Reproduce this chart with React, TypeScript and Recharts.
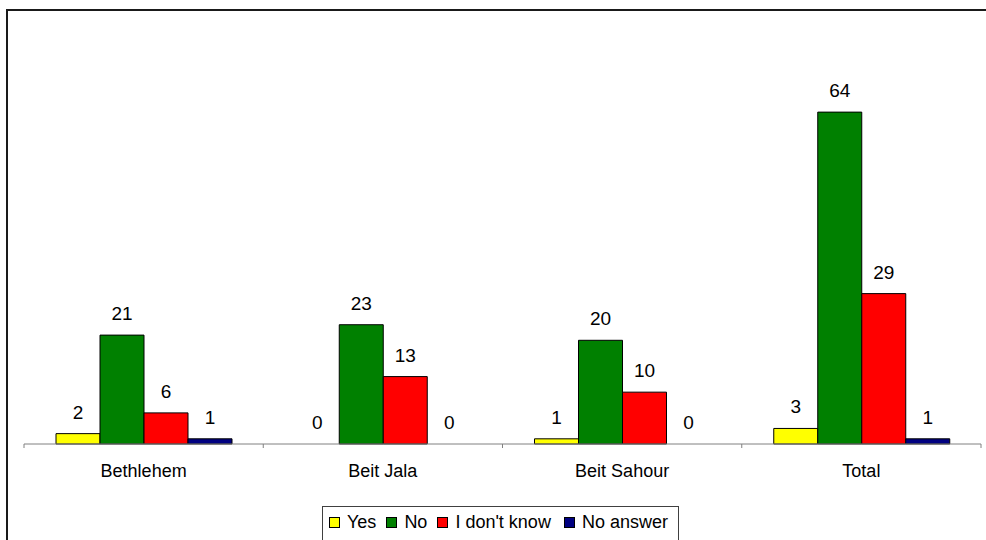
import React from "react";
import { BarChart, Bar, XAxis, YAxis, Legend, LabelList, Cell } from "recharts";

const categories = ["Bethlehem", "Beit Jala", "Beit Sahour", "Total"];
const seriesNames = ["Yes", "No", "I don't know", "No answer"];
const yesValues = [2, 0, 1, 3];
const noValues = [21, 23, 20, 64];
const dontKnowValues = [6, 13, 10, 29];
const noAnswerValues = [1, 0, 0, 1];

const data = categories.map((name, i) => ({
  name,
  yes: yesValues[i],
  no: noValues[i],
  dontKnow: dontKnowValues[i],
  noAnswer: noAnswerValues[i],
}));

const FONT = "'Liberation Sans', Arial, sans-serif";
const W = 986;
const H = 540;
const MARGIN = { top: 81, right: 5, bottom: 66, left: 24 };
const PLOT_W = W - MARGIN.left - MARGIN.right;
const BAND = PLOT_W / categories.length;

function CategoryTick(props: any) {
  const { x, y, payload, index } = props;
  const last = index === categories.length - 1;
  return (
    <g>
      <line x1={x - BAND / 2} x2={x - BAND / 2} y1={y} y2={y + 4} stroke="#808080" strokeWidth={1} />
      {last && <line x1={x + BAND / 2} x2={x + BAND / 2} y1={y} y2={y + 4} stroke="#808080" strokeWidth={1} />}
      <text x={x} y={y + 33} textAnchor="middle" fill="#000" fontSize={18} fontFamily={FONT}>
        {payload.value}
      </text>
    </g>
  );
}

function LegendBox(props: any) {
  const payload = [...(props.payload || [])].sort(
    (a: any, b: any) => seriesNames.indexOf(a.value) - seriesNames.indexOf(b.value)
  );
  return (
    <div
      style={{
        border: "1px solid #404040",
        width: 357,
        height: 40,
        boxSizing: "border-box",
        paddingLeft: 6,
        paddingTop: 4,
        fontFamily: FONT,
        fontSize: 18,
        color: "#000",
        background: "#fff",
      }}
    >
      <div style={{ display: "flex", alignItems: "center", height: 22 }}>
        {payload.map((p: any, i: number) => (
          <div key={i} style={{ display: "flex", alignItems: "center", marginRight: i === 2 ? 13 : 10 }}>
            <span
              style={{
                display: "inline-block",
                width: 9,
                height: 9,
                background: p.color,
                border: "1px solid #000",
                marginRight: 7,
              }}
            />
            <span style={{ lineHeight: "20px", whiteSpace: "nowrap" }}>{p.value}</span>
          </div>
        ))}
      </div>
    </div>
  );
}

function ValueLabel(props: any) {
  const { x, y, width, value } = props;
  if (value === undefined || value === null) return null;
  return (
    <text
      x={Number(x) + Number(width) / 2}
      y={Number(y) - 15}
      textAnchor="middle"
      fill="#000"
      fontSize={19}
      fontFamily={FONT}
    >
      {value}
    </text>
  );
}

const series = [
  { key: "yes", name: "Yes", color: "#FFFF00", values: yesValues },
  { key: "no", name: "No", color: "#008000", values: noValues },
  { key: "dontKnow", name: "I don't know", color: "#FF0000", values: dontKnowValues },
  { key: "noAnswer", name: "No answer", color: "#000080", values: noAnswerValues },
];

export default function App() {
  return (
    <div
      style={{
        position: "fixed",
        left: 0,
        top: 0,
        width: W,
        height: H,
        overflow: "hidden",
        background: "#fff",
      }}
    >
      <div
        style={{
          position: "absolute",
          left: 6,
          top: 9,
          width: 1100,
          height: 700,
          borderLeft: "2px solid #1a1a1a",
          borderTop: "2px solid #1a1a1a",
        }}
      />
      <div style={{ position: "absolute", left: 0, top: 0 }}>
        <BarChart
          width={W}
          height={H}
          data={data}
          margin={MARGIN}
          barCategoryGap={32}
          barGap={0}
        >
          <XAxis
            dataKey="name"
            axisLine={{ stroke: "#808080", strokeWidth: 1 }}
            tickLine={false}
            tickSize={0}
            tickMargin={0}
            height={30}
            interval={0}
            tick={<CategoryTick />}
          />
          <YAxis hide domain={[0, 70]} />
          <Legend
            layout="horizontal"
            verticalAlign="middle"
            align="center"
            content={<LegendBox />}
            wrapperStyle={{ position: "absolute", left: 322, top: 506, width: 357, height: 40 }}
          />
          {series.map((s) => (
            <Bar
              key={s.key}
              dataKey={s.key}
              name={s.name}
              fill={s.color}
              stroke="#000"
              strokeWidth={1}
              minPointSize={0.01}
              isAnimationActive={false}
            >
              {s.values.map((v, i) => (
                <Cell
                  key={i}
                  fill={v === 0 ? "none" : s.color}
                  stroke={v === 0 ? "none" : "#000"}
                />
              ))}
              <LabelList dataKey={s.key} content={<ValueLabel />} />
            </Bar>
          ))}
        </BarChart>
      </div>
    </div>
  );
}
